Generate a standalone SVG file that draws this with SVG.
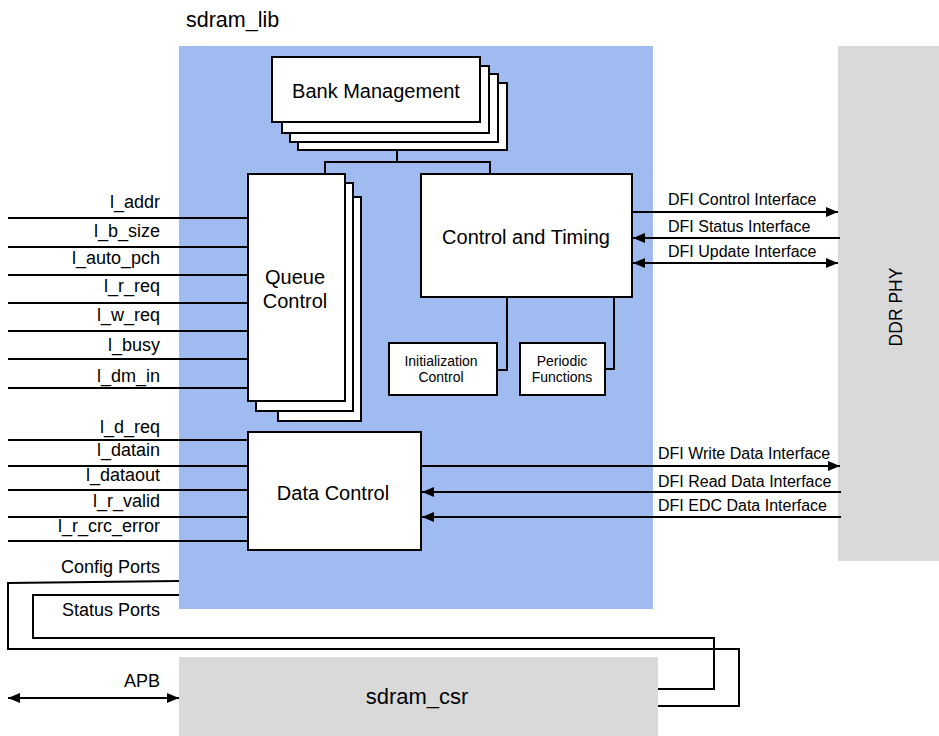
<svg xmlns="http://www.w3.org/2000/svg" width="939" height="736" viewBox="0 0 939 736">
<style>
text{font-family:"Liberation Sans",Arial,sans-serif;fill:#000}
.box{fill:#fff;stroke:#000;stroke-width:2}
.ln{fill:none;stroke:#000;stroke-width:2}
.lbl{font-size:18px;text-anchor:end}
.dfi{font-size:16px}
.big{font-size:20px;text-anchor:middle}
.sm{font-size:14px;text-anchor:middle}
</style>
<defs>
<marker id="ah" markerUnits="userSpaceOnUse" markerWidth="12" markerHeight="10" refX="12" refY="5" orient="auto-start-reverse">
<path d="M0,0 L12,5 L0,10 Z" fill="#000"/>
</marker>
</defs>
<rect id="lib-bg" x="179" y="46" width="474" height="563" fill="#a0bbf0"/>
<text x="186" y="27" style="font-size:21.5px">sdram_lib</text>
<g id="ddr-phy">
<rect x="838" y="46" width="101" height="515" fill="#d9d9d9"/>
<text transform="translate(902,307) rotate(-90)" text-anchor="middle" style="font-size:17.5px">DDR PHY</text>
</g>
<g id="sdram-csr">
<rect x="179" y="657" width="479" height="79" fill="#d9d9d9"/>
<text x="417" y="704" text-anchor="middle" style="font-size:22px">sdram_csr</text>
</g>
<g id="bank-management">
<rect class="box" x="298" y="83" width="209" height="67"/>
<rect class="box" x="290" y="74" width="208" height="68"/>
<rect class="box" x="282" y="66" width="207" height="67"/>
<rect class="box" x="272" y="57" width="208" height="65"/>
<text class="big" x="376" y="98">Bank Management</text>
</g>
<g id="queue-control">
<rect class="box" x="278" y="197" width="83" height="224"/>
<rect class="box" x="256" y="183" width="97" height="228"/>
<rect class="box" x="248" y="174" width="97" height="227"/>
<text class="big" x="295" y="284">Queue</text>
<text class="big" x="295" y="308">Control</text>
</g>
<g id="control-timing">
<rect class="box" x="421" y="174" width="211" height="123"/>
<text class="big" x="526" y="244">Control and Timing</text>
</g>
<g id="init-control">
<rect class="box" x="389" y="343" width="108" height="52"/>
<text class="sm" x="441" y="366">Initialization</text>
<text class="sm" x="441" y="382">Control</text>
</g>
<g id="periodic-functions">
<rect class="box" x="520" y="343" width="85" height="52"/>
<text class="sm" x="562" y="366">Periodic</text>
<text class="sm" x="562" y="382">Functions</text>
</g>
<g id="data-control">
<rect class="box" x="248" y="432" width="173" height="118"/>
<text class="big" x="333" y="500">Data Control</text>
</g>
<g id="connectors">
<path class="ln" d="M397,150 V162 M325,175 V162 H490 V175"/>
<path class="ln" d="M507,297 V370 H497 M614,297 V369 H605"/>
<path class="ln" d="M8,218 H248 M8,247 H248 M8,275 H248 M8,303 H248 M8,331 H248 M8,359 H248 M8,388 H248"/>
<path class="ln" d="M8,440 H248 M8,466 H248 M8,490 H248 M8,517 H248 M8,541 H248"/>
<path class="ln" d="M632,212 H838" marker-end="url(#ah)"/>
<path class="ln" d="M840,238 H633" marker-end="url(#ah)"/>
<path class="ln" d="M633,263 H838" marker-start="url(#ah)" marker-end="url(#ah)"/>
<path class="ln" d="M421,466 H840" marker-end="url(#ah)"/>
<path class="ln" d="M841,492 H422" marker-end="url(#ah)"/>
<path class="ln" d="M841,517 H422" marker-end="url(#ah)"/>
<path class="ln" d="M179,581 L8,583 V649 H739 V706 H658"/>
<path class="ln" d="M179,595 H33 V638 H714 V689 H658"/>
<path class="ln" d="M8,698 H179" marker-start="url(#ah)" marker-end="url(#ah)"/>
</g>
<g id="labels">
<text class="lbl" x="160" y="208">l_addr</text>
<text class="lbl" x="160" y="237">l_b_size</text>
<text class="lbl" x="160" y="264">l_auto_pch</text>
<text class="lbl" x="160" y="292">l_r_req</text>
<text class="lbl" x="160" y="321">l_w_req</text>
<text class="lbl" x="160" y="351">l_busy</text>
<text class="lbl" x="160" y="382">l_dm_in</text>
<text class="lbl" x="160" y="433">l_d_req</text>
<text class="lbl" x="160" y="456">l_datain</text>
<text class="lbl" x="160" y="481">l_dataout</text>
<text class="lbl" x="160" y="507">l_r_valid</text>
<text class="lbl" x="160" y="532">l_r_crc_error</text>
<text class="lbl" x="160" y="573">Config Ports</text>
<text class="lbl" x="160" y="616">Status Ports</text>
<text class="lbl" x="160" y="687">APB</text>
<text class="dfi" x="668" y="205">DFI Control Interface</text>
<text class="dfi" x="668" y="232">DFI Status Interface</text>
<text class="dfi" x="668" y="257">DFI Update Interface</text>
<text class="dfi" x="658" y="459">DFI Write Data Interface</text>
<text class="dfi" x="658" y="487">DFI Read Data Interface</text>
<text class="dfi" x="658" y="511">DFI EDC Data Interface</text>
</g>
</svg>
